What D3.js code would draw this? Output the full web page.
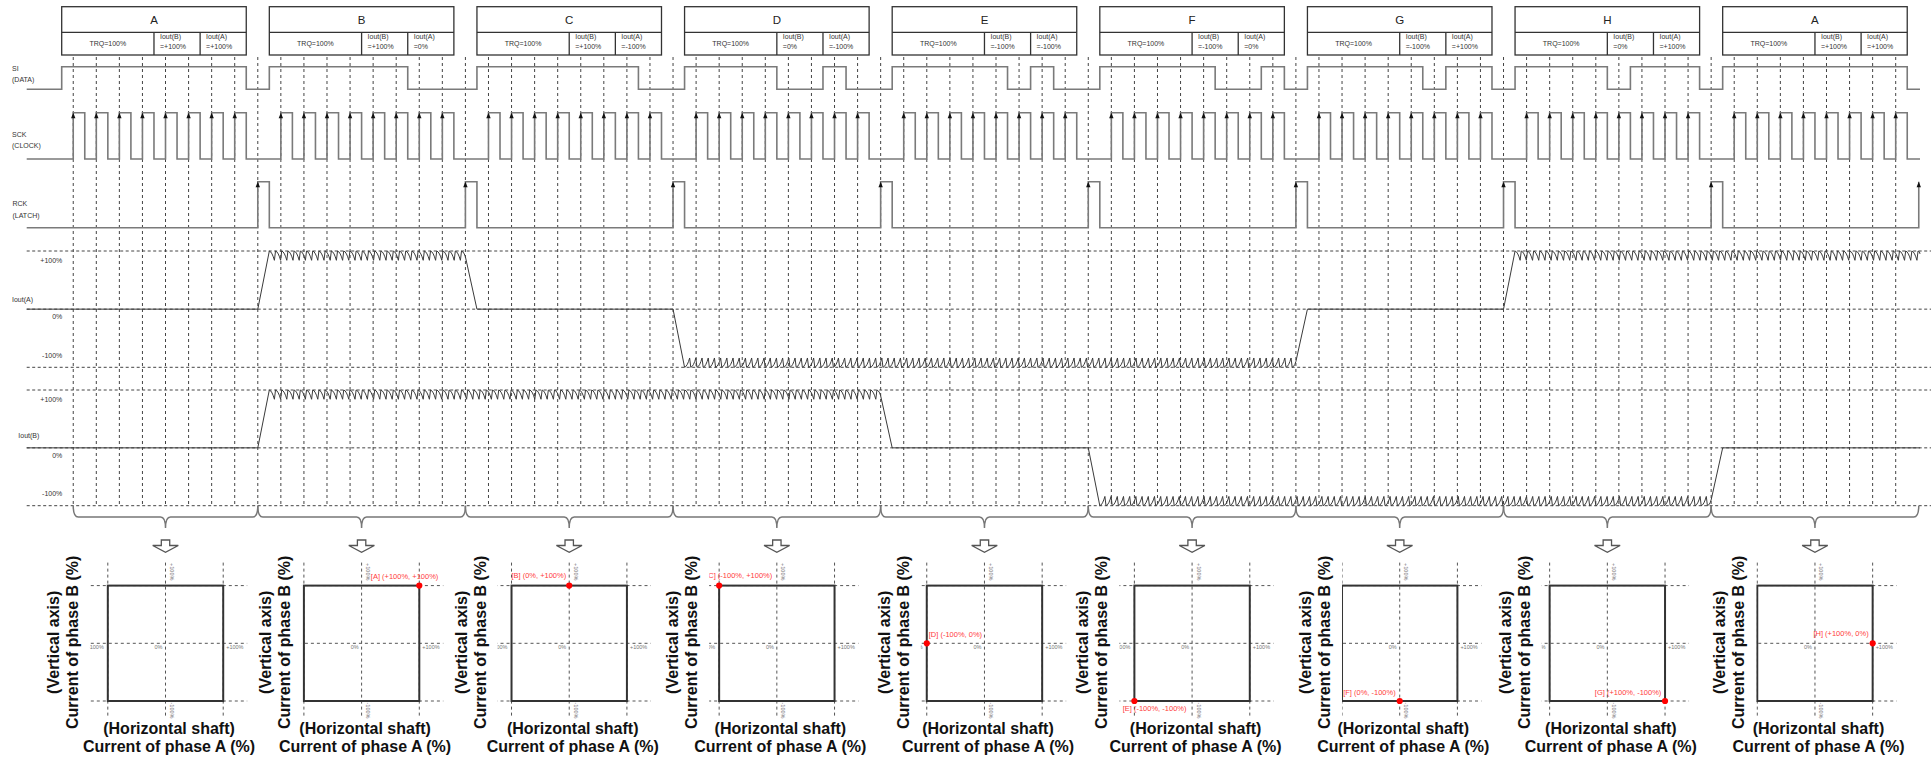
<!DOCTYPE html>
<html>
<head>
<meta charset="utf-8">
<script src="https://cdnjs.cloudflare.com/ajax/libs/d3/7.8.5/d3.min.js"></script>
<style>
  body { margin: 0; background: #fff; }
  svg { font-family: "Liberation Sans", Arial, sans-serif; }
</style>
</head>
<body>
<svg id="chart" width="1931" height="760"></svg>
<script>
// ---- data ----
const segments = ["A", "B", "C", "D", "E", "F", "G", "H", "A"];
const trqSet   = ["100%", "100%", "100%", "100%", "100%", "100%", "100%", "100%", "100%"];
const ioutBSet = ["+100%", "+100%", "+100%", "0%", "-100%", "-100%", "-100%", "0%", "+100%"];
const ioutASet = ["+100%", "0%", "-100%", "-100%", "-100%", "0%", "+100%", "+100%", "+100%"];
// SI level for the 8 clocked bits of every frame
const siBits = ["11111111", "11111100", "11111110", "11110010", "11111010",
                "11111001", "11111011", "11110111", "11111111"];
const levelTicks = ["+100%", "0%", "-100%"];
const levelValues = [100, 0, -100];

// current between two latches (interval 0 = before the first latch)
const ioutA = [0].concat(ioutASet.slice(0, -1).map(parseFloat));
const ioutB = [0].concat(ioutBSet.slice(0, -1).map(parseFloat));

// ---- layout (hand placed in the original) ----
const titleGap = [27, 11, 23, 19, 15, 24, 9, 17, 10];
const labelPlace = [null,
  { anchor: "start", dx: -48.5, dy: -6.7 },
  { anchor: "end",   dx: -3,    dy: -7.7 },
  { anchor: "start", dx: -13,   dy: -7.7 },
  { anchor: "start", dx: 2,     dy: -6 },
  { anchor: "start", dx: -11.7, dy: 9.7 },
  { anchor: "end",   dx: -4,    dy: -6 },
  { anchor: "end",   dx: -3.7,  dy: -6 },
  { anchor: "end",   dx: -4,    dy: -7.3 }];

const svg = d3.select("#chart");
svg.append("rect").attr("width", 1931).attr("height", 760).attr("fill", "#fff");

// one unit = one clock period, 9 units per frame
const x = d3.scaleLinear().domain([0, 81]).range([61.7, 1930.3]);
const U = x(1) - x(0);
const X_START = 26.7, X_END = 1920;

const ySI  = d3.scaleLinear().domain([0, 1]).range([89.3, 66.7]);
const ySCK = d3.scaleLinear().domain([0, 1]).range([159, 112.7]);
const yRCK = d3.scaleLinear().domain([0, 1]).range([227.7, 181.7]);
const yA = d3.scaleLinear().domain([-100, 100]).range([367.3, 251]);
const yB = d3.scaleLinear().domain([-100, 100]).range([505.7, 390]);

const seg = d3.range(segments.length);
const clockTimes = [];
seg.forEach(k => d3.range(8).forEach(i => clockTimes.push(9 * k + i + 0.5)));
const latchTimes = seg.map(k => 9 * k + 8.5);

// ---- dashed grid ----
svg.append("g").selectAll("line")
  .data(clockTimes.concat(latchTimes.slice(0, -1)))
  .join("line")
  .attr("x1", d => x(d)).attr("x2", d => x(d))
  .attr("y1", 57).attr("y2", yB(-100))
  .attr("stroke", "#444").attr("stroke-width", 1).attr("stroke-dasharray", "3,3");

[yA, yB].forEach(y => {
  svg.append("g").selectAll("line").data(levelValues).join("line")
    .attr("x1", X_START).attr("x2", 1931)
    .attr("y1", d => y(d)).attr("y2", d => y(d))
    .attr("stroke", "#444").attr("stroke-dasharray", "3,2.5");
});

// ---- frame headers ----
const head = svg.append("g").selectAll("g").data(seg).join("g");
head.append("rect")
  .attr("x", k => x(9 * k)).attr("y", 6.7)
  .attr("width", x(8) - x(0)).attr("height", 48.3)
  .attr("fill", "#fff").attr("stroke", "#333").attr("stroke-width", 1.3);
head.append("line")
  .attr("x1", k => x(9 * k)).attr("x2", k => x(9 * k + 8))
  .attr("y1", 32.3).attr("y2", 32.3).attr("stroke", "#333").attr("stroke-width", 1.3);
[4, 6].forEach(t => head.append("line")
  .attr("x1", k => x(9 * k + t)).attr("x2", k => x(9 * k + t))
  .attr("y1", 32.3).attr("y2", 55).attr("stroke", "#333").attr("stroke-width", 1.3));
head.append("text")
  .attr("x", k => x(9 * k + 4)).attr("y", 23.8)
  .attr("text-anchor", "middle").attr("font-size", 11.5).attr("fill", "#222")
  .text(k => segments[k]);
head.append("text")
  .attr("x", k => x(9 * k + 2)).attr("y", 46)
  .attr("text-anchor", "middle").attr("font-size", 7).attr("fill", "#333")
  .text(k => "TRQ=" + trqSet[k]);
[[4, "Iout(B)", ioutBSet], [6, "Iout(A)", ioutASet]].forEach(([t, name, vals]) => {
  head.append("text").attr("x", k => x(9 * k + t) + 6).attr("y", 38.5)
    .attr("font-size", 7).attr("fill", "#333").text(name);
  head.append("text").attr("x", k => x(9 * k + t) + 6).attr("y", 48.5)
    .attr("font-size", 7).attr("fill", "#333").text(k => "=" + vals[k]);
});

// ---- row labels ----
const rowText = [
  ["SI", 12, ySI(1) + 4], ["(DATA)", 12, ySI(1) + 15.5],
  ["SCK", 12, ySCK(1) + 24], ["(CLOCK)", 12, ySCK(1) + 35.5],
  ["RCK", 12.5, yRCK(1) + 24.5], ["(LATCH)", 12.5, yRCK(1) + 36],
  ["Iout(A)", 12, yA(0) - 7.5], ["Iout(B)", 18.3, yB(0) - 9.5]
];
svg.append("g").selectAll("text").data(rowText).join("text")
  .attr("x", d => d[1]).attr("y", d => d[2])
  .attr("font-size", 7).attr("fill", "#333").text(d => d[0]);
[yA, yB].forEach(y => {
  svg.append("g").selectAll("text").data(levelTicks).join("text")
    .attr("x", 62.3)
    .attr("y", (d, i) => y(levelValues[i]) + [11.5, 10, -9.3][i])
    .attr("text-anchor", "end").attr("font-size", 7).attr("fill", "#333")
    .text(d => d);
});

// ---- digital waveforms ----
const step = y => d3.line().x(d => d[0]).y(d => y(d[1])).curve(d3.curveStepAfter);

const siPts = [[X_START, 0]];
seg.forEach(k => {
  siBits[k].split("").forEach((b, i) => siPts.push([x(9 * k + i), +b]));
  siPts.push([x(9 * k + 8), 0]);
});
siPts.push([X_END, 0]);

const sckPts = [[X_START, 0]];
clockTimes.forEach(c => { sckPts.push([x(c), 1]); sckPts.push([x(c + 0.5), 0]); });
sckPts.push([X_END, 0]);

const rckPts = [[X_START, 0]];
latchTimes.forEach((t, k) => {
  rckPts.push([x(t), 1]);
  if (k < latchTimes.length - 1) rckPts.push([x(t + 0.5), 0]);
});

[[siPts, ySI], [sckPts, ySCK], [rckPts, yRCK]].forEach(([pts, y]) => {
  svg.append("path").attr("d", step(y)(pts))
    .attr("fill", "none").attr("stroke", "#7a7a7a").attr("stroke-width", 1.6);
});

// rising-edge arrows
const arrowHead = (px, py) => `M${px},${py}L${px - 2.2},${py + 5.5}L${px + 2.2},${py + 5.5}Z`;
svg.append("g").selectAll("path").data(clockTimes).join("path")
  .attr("d", c => arrowHead(x(c), ySCK(1))).attr("fill", "#111");
svg.append("g").selectAll("path").data(latchTimes).join("path")
  .attr("d", t => arrowHead(x(t), yRCK(1))).attr("fill", "#111");

// ---- coil currents with chopping ripple ----
const RIPPLE = 6.2;
const rippleShape = [[0, 1], [0.22, 0.985], [0.44, 0.95], [0.64, 0.9], [0.82, 0.84], [1, 1]];
function ripple(pts, x0, x1, L, y) {
  for (let cx = x0; cx < x1; cx += RIPPLE) {
    for (const [f, v] of rippleShape) {
      if (f === 0) continue;
      const px = cx + f * RIPPLE;
      if (px > x1) { pts.push([x1, y(L * v)]); return; }
      pts.push([px, y(L * v)]);
    }
  }
}
function ioutPoints(levels, y) {
  const pts = [[X_START, y(0)], [x(latchTimes[0]), y(0)]];
  let k = 1;
  while (k < levels.length) {
    let j = k;
    while (j + 1 < levels.length && levels[j + 1] === levels[k]) j++;
    const xs = x(latchTimes[k - 1]);
    const xe = j + 1 < levels.length ? x(latchTimes[j]) : X_END;
    const L = levels[k];
    let x0 = xs;
    if (L !== levels[k - 1]) { x0 = xs + U / 2; pts.push([x0, y(L)]); }
    if (L === 0) pts.push([xe, y(0)]);
    else ripple(pts, x0, xe, L, y);
    k = j + 1;
  }
  return pts;
}
const lin = d3.line();
[[ioutA, yA], [ioutB, yB]].forEach(([lv, y]) => {
  svg.append("path").attr("d", lin(ioutPoints(lv, y)))
    .attr("fill", "none").attr("stroke", "#3a3a3a").attr("stroke-width", 1);
});

// ---- braces and arrows ----
const intervals = seg.map(k => k === 0 ? [0.5, 8.5] : [9 * (k - 1) + 8.5, 9 * k + 8.5]);
const bTop = yB(-100), bMid = 517, bTip = 528;
svg.append("g").selectAll("path").data(intervals).join("path")
  .attr("d", ([a, b]) => {
    const xs = x(a), xe = x(b), xc = (xs + xe) / 2;
    return `M${xs},${bTop}Q${xs},${bMid} ${xs + 5},${bMid}L${xc - 5},${bMid}` +
      `Q${xc},${bMid} ${xc},${bTip}Q${xc},${bMid} ${xc + 5},${bMid}` +
      `L${xe - 5},${bMid}Q${xe},${bMid} ${xe},${bTop}`;
  })
  .attr("fill", "none").attr("stroke", "#777").attr("stroke-width", 1.5);

svg.append("g").selectAll("path").data(intervals).join("path")
  .attr("d", ([a, b]) => {
    const xc = (x(a) + x(b)) / 2;
    return `M${xc - 4.2},540L${xc + 4.2},540L${xc + 4.2},545.5L${xc + 12.8},545.5` +
      `L${xc},552.3L${xc - 12.8},545.5L${xc - 4.2},545.5Z`;
  })
  .attr("fill", "#fff").attr("stroke", "#555").attr("stroke-width", 1.3);

// ---- phase diagrams ----
const SQ_CY = 643.3, SQ_H = 57.7;
seg.forEach(k => {
  const [a, b] = intervals[k];
  const cx = (x(a) + x(b)) / 2;
  const sx = d3.scaleLinear().domain([-100, 100]).range([cx - SQ_H, cx + SQ_H]);
  const sy = d3.scaleLinear().domain([-100, 100]).range([SQ_CY + SQ_H, SQ_CY - SQ_H]);
  const g = svg.append("g");

  g.selectAll("line.v").data(levelValues).join("line").attr("class", "v")
    .attr("x1", d => sx(d)).attr("x2", d => sx(d))
    .attr("y1", sy(100) - 23).attr("y2", sy(-100) + 15)
    .attr("stroke", "#555").attr("stroke-dasharray", "3,3");
  g.selectAll("line.h").data(levelValues).join("line").attr("class", "h")
    .attr("x1", sx(-100) - 17).attr("x2", sx(100) + 24)
    .attr("y1", d => sy(d)).attr("y2", d => sy(d))
    .attr("stroke", "#555").attr("stroke-dasharray", "3,3");
  g.append("rect")
    .attr("x", sx(-100)).attr("y", sy(100))
    .attr("width", sx(100) - sx(-100)).attr("height", sy(-100) - sy(100))
    .attr("fill", "none").attr("stroke", "#333").attr("stroke-width", 2);

  const small = { "font-size": 5.5, fill: "#777" };
  const t = (txt, px, py, anchor, rot) => {
    const e = g.append("text").text(txt).attr("text-anchor", anchor)
      .attr("transform", `translate(${px},${py})` + (rot ? ` rotate(${rot})` : ""));
    Object.entries(small).forEach(([kk, vv]) => e.attr(kk, vv));
  };
  t("+100%", sx(0) + 4.5, sy(100) - 22.5, "start", 90);
  t("-100%", sx(0) + 4.5, sy(-100) + 1.5, "start", 90);
  t("-100%", sx(-100) - 4, sy(0) + 6, "end");
  t("0%", sx(0) - 3, sy(0) + 6, "end");
  t("+100%", sx(100) + 3, sy(0) + 6, "start");

  if (k > 0) {
    const px = sx(ioutA[k]), py = sy(ioutB[k]);
    const lp = labelPlace[k];
    g.append("text")
      .attr("x", px + lp.dx).attr("y", py + lp.dy)
      .attr("text-anchor", lp.anchor)
      .attr("font-size", 7.5).attr("fill", "#ff3b3b")
      .text(`[${segments[k - 1]}] (${ioutASet[k - 1]}, ${ioutBSet[k - 1]})`);
    g.append("circle").attr("cx", px).attr("cy", py).attr("r", 3.1).attr("fill", "#ff0000");
  }

  // vertical axis title on a white box
  const right = sx(-100) - titleGap[k];
  g.append("rect").attr("x", right - 42).attr("y", 548)
    .attr("width", 51).attr("height", 186).attr("fill", "#fff");
  [["(Vertical axis)", right - 22], ["Current of phase B (%)", right - 3]].forEach(([txt, bx]) => {
    g.append("text").attr("transform", `translate(${bx},${SQ_CY - 1}) rotate(-90)`)
      .attr("text-anchor", "middle").attr("font-size", 16).attr("font-weight", "bold")
      .attr("fill", "#111").text(txt);
  });
  [["(Horizontal shaft)", 734], ["Current of phase A (%)", 751.7]].forEach(([txt, by]) => {
    g.append("text").attr("x", cx + 3.5).attr("y", by)
      .attr("text-anchor", "middle").attr("font-size", 16).attr("font-weight", "bold")
      .attr("fill", "#111").text(txt);
  });
});
</script>
</body>
</html>
